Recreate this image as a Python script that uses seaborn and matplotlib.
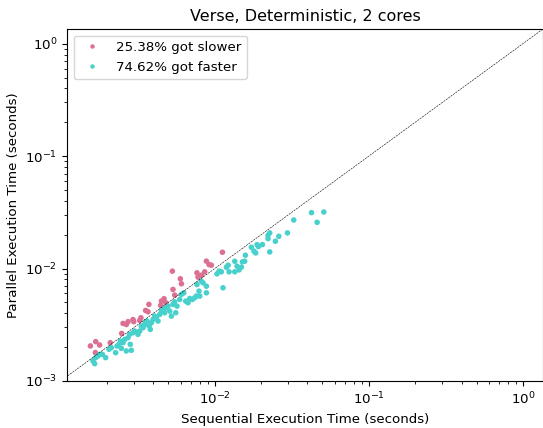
import numpy as np
import pandas as pd
import matplotlib
matplotlib.use("Agg")
import matplotlib.pyplot as plt
import seaborn as sns

plt.rcParams["font.size"] = 9.6

# runs that got slower (parallel > sequential)
slow_seq = [0.00156, 0.00169, 0.00179, 0.00168, 0.00210, 0.00249, 0.00254, 0.00274,
            0.00295, 0.00298, 0.00326, 0.00332, 0.00356, 0.00369, 0.00374, 0.00446,
            0.00451, 0.00469, 0.00481, 0.00531, 0.00536, 0.00550, 0.00598, 0.00608,
            0.00767, 0.00779, 0.00820, 0.00861, 0.00883, 0.00918, 0.00951, 0.01122,
            0.00267]
slow_par = [0.00205, 0.00224, 0.00209, 0.00179, 0.00219, 0.00265, 0.00325, 0.00337,
            0.00352, 0.00337, 0.00346, 0.00365, 0.00424, 0.00413, 0.00480, 0.00470,
            0.00514, 0.00539, 0.00497, 0.00948, 0.00652, 0.00581, 0.00811, 0.00732,
            0.00916, 0.00839, 0.00873, 0.00935, 0.01164, 0.01086, 0.01071, 0.01397,
            0.00318]

# runs that got faster
fast_seq = [0.001622, 0.001663, 0.001687, 0.001746, 0.001791, 0.001866, 0.001959, 0.002061,
            0.002133, 0.002275, 0.002323, 0.002393, 0.002440, 0.002477, 0.002541, 0.002606,
            0.002667, 0.002735, 0.002805, 0.002877, 0.002831, 0.002951, 0.003020, 0.003177,
            0.003258, 0.003342, 0.003428, 0.003508, 0.003639, 0.003750, 0.003819, 0.003882,
            0.003981, 0.004074, 0.004178, 0.004285, 0.004395, 0.004508, 0.004613, 0.004732,
            0.004853, 0.004977, 0.005105, 0.005236, 0.005358, 0.005495, 0.005585, 0.005689,
            0.005929, 0.006067, 0.006295, 0.006486, 0.006714, 0.006887, 0.007161, 0.007413,
            0.007603, 0.007674, 0.007907, 0.007998, 0.008185, 0.008395, 0.008831, 0.008831,
            0.01035, 0.01067, 0.01104, 0.01132, 0.01191, 0.01222, 0.01239, 0.01349,
            0.01349, 0.01396, 0.01439, 0.01489, 0.01512, 0.01566, 0.01581, 0.01729,
            0.01799, 0.01845, 0.01883, 0.01920, 0.02039, 0.02218, 0.02218, 0.02275,
            0.02275, 0.02477, 0.02606, 0.02965, 0.03258, 0.04246, 0.04618, 0.05105,
            0.003565]
fast_par = [0.001507, 0.001426, 0.001614, 0.001668, 0.001726, 0.001726, 0.001614, 0.001914,
            0.001977, 0.001786, 0.002047, 0.002118, 0.002265, 0.001950, 0.002193, 0.002344,
            0.001849, 0.002427, 0.002600, 0.001875, 0.002118, 0.002687, 0.002780, 0.002600,
            0.002780, 0.003083, 0.002979, 0.003184, 0.003412, 0.003083, 0.002877, 0.003296,
            0.003532, 0.003776, 0.003656, 0.003412, 0.003908, 0.004188, 0.004325, 0.004046,
            0.004477, 0.004634, 0.004188, 0.003776, 0.004797, 0.005058, 0.004046, 0.004634,
            0.005309, 0.005888, 0.006081, 0.005129, 0.004966, 0.005420, 0.005309, 0.005495,
            0.005689, 0.007211, 0.006295, 0.005689, 0.007727, 0.007464, 0.006966, 0.006081,
            0.008974, 0.009484, 0.009354, 0.006745, 0.01028, 0.01071, 0.009354, 0.01161,
            0.009354, 0.01050, 0.009727, 0.01028, 0.01146, 0.01161, 0.01314, 0.01548,
            0.01426, 0.01377, 0.01633, 0.01568, 0.01633, 0.01977, 0.01846, 0.02075,
            0.01406, 0.01750, 0.01936, 0.02075, 0.02704, 0.03141, 0.02578, 0.03184,
            0.003365]

n_total = len(slow_seq) + len(fast_seq)
lbl_slow = f"{100 * len(slow_seq) / n_total:.2f}% got slower"
lbl_fast = f"{100 * len(fast_seq) / n_total:.2f}% got faster"

df = pd.DataFrame({
    "seq": slow_seq + fast_seq,
    "par": slow_par + fast_par,
    "group": [lbl_slow] * len(slow_seq) + [lbl_fast] * len(fast_seq),
})

fig = plt.figure(figsize=(5.43, 4.28), dpi=100)
ax = fig.add_axes([67 / 543, 1 - 381 / 428, 476 / 543, 352 / 428])

sns.scatterplot(data=df, x="seq", y="par", hue="group",
                hue_order=[lbl_slow, lbl_fast],
                palette=["palevioletred", "mediumturquoise"],
                s=16, linewidth=0, ax=ax)

ax.set_xscale("log")
ax.set_yscale("log")
ax.set_xlim(0.0011, 1.35)
ax.set_ylim(0.001, 1.35)
ax.plot([0.001, 1.35], [0.001, 1.35], color="black", linestyle="--", linewidth=0.4)

ax.set_title("Verse, Deterministic, 2 cores")
ax.set_xlabel("Sequential Execution Time (seconds)")
ax.set_ylabel("Parallel Execution Time (seconds)")
ax.legend(loc="upper left", markerscale=0.8)

fig.savefig("out.png", dpi=100)
